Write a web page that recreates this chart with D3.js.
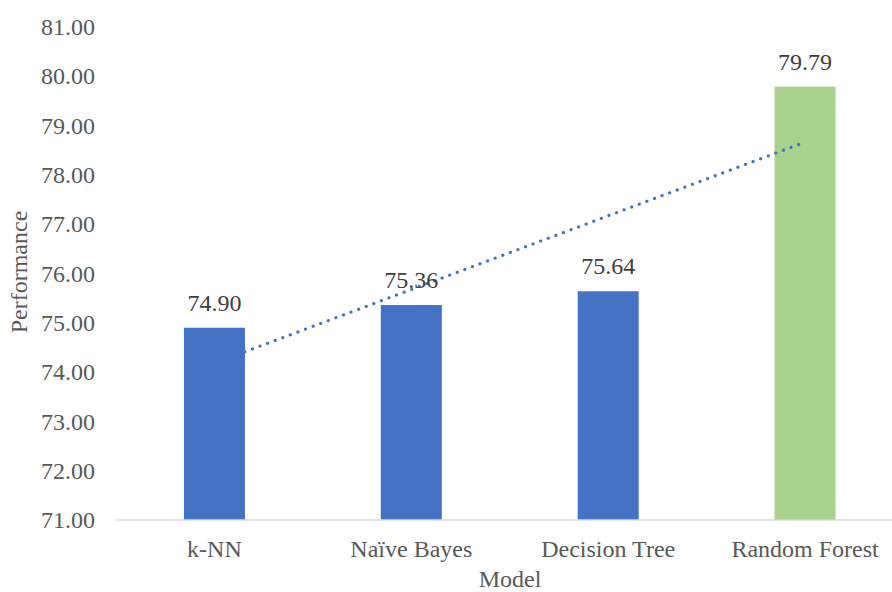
<!DOCTYPE html>
<html><head><meta charset="utf-8">
<script src="https://cdn.jsdelivr.net/npm/d3@7"></script>
<style>body{margin:0;background:#fff}svg{display:block}
svg text{font-family:"Liberation Serif","Times New Roman",Times,"DejaVu Serif",serif;}</style>
</head><body>
<svg id="c" width="892" height="592"></svg>
<script>
const categories = ["k-NN", "Naïve Bayes", "Decision Tree", "Random Forest"];
const values = [74.90, 75.36, 75.64, 79.79];
const barColors = ["#4472C4", "#4472C4", "#4472C4", "#A9D18E"];
const yTicks = [71, 72, 73, 74, 75, 76, 77, 78, 79, 80, 81];
const yTitle = "Performance";
const xTitle = "Model";

(function () {
const svg = d3.select("#c");
const pLeft = 116, pRight = 903.5, pTop = 27, pBottom = 520;

const x = d3.scaleBand().domain(categories).range([pLeft, pRight]).paddingInner(0.69).paddingOuter(0.345);
const y = d3.scaleLinear().domain([71, 81]).range([pBottom, pTop]);

// bars
svg.selectAll("rect.bar").data(values).join("rect")
  .attr("x", (d, i) => x(categories[i]))
  .attr("y", d => y(d))
  .attr("width", x.bandwidth())
  .attr("height", d => y(71) - y(d))
  .attr("fill", (d, i) => barColors[i]);

// linear trendline (least squares over category index)
const n = values.length;
const xs = values.map((d, i) => i + 1);
const mx = d3.mean(xs), my = d3.mean(values);
const slope = d3.sum(xs.map((xi, i) => (xi - mx) * (values[i] - my))) / d3.sum(xs.map(xi => (xi - mx) ** 2));
const icpt = my - slope * mx;
const cx = i => x(categories[i]) + x.bandwidth() / 2;
svg.append("line")
  .attr("x1", cx(0)).attr("y1", y(icpt + slope * 1))
  .attr("x2", cx(n - 1)).attr("y2", y(icpt + slope * n))
  .attr("stroke", "#4472C4").attr("stroke-width", 3.2)
  .attr("stroke-linecap", "round").attr("stroke-dasharray", "0.1 8");

// x axis line
svg.append("line").attr("x1", pLeft).attr("x2", pRight).attr("y1", pBottom).attr("y2", pBottom)
  .attr("stroke", "#D9D9D9").attr("stroke-width", 1.5);

// y axis
const yAxis = d3.axisLeft(y).tickValues(yTicks).tickFormat(d3.format(".2f")).tickSize(0).tickPadding(0);
const ya = svg.append("g").attr("transform", `translate(95,0)`).call(yAxis);
ya.attr("font-family", null).attr("font-size", null);
ya.select(".domain").remove();
ya.selectAll("text").style("font-size", "24px").attr("fill", "#595959");

// x axis labels
const xAxis = d3.axisBottom(x).tickSize(0).tickPadding(0);
const xa = svg.append("g").attr("transform", `translate(0,${pBottom + 20})`).call(xAxis);
xa.attr("font-family", null).attr("font-size", null);
xa.select(".domain").remove();
xa.selectAll("text").style("font-size", "24px").attr("fill", "#595959").attr("dy", "0.71em");

// data labels
svg.selectAll("text.lbl").data(values).join("text")
  .attr("class", "lbl")
  .attr("x", (d, i) => cx(i))
  .attr("y", d => y(d) - 17)
  .attr("text-anchor", "middle")
  .style("font-size", "24px").attr("fill", "#404040")
  .text(d => d3.format(".2f")(d));

// axis titles
svg.append("text").attr("x", 510).attr("y", 587).attr("text-anchor", "middle")
  .style("font-size", "24px").attr("fill", "#595959").text(xTitle);
svg.append("text").attr("transform", "translate(27,272) rotate(-90)").attr("text-anchor", "middle")
  .style("font-size", "24px").attr("fill", "#595959").text(yTitle);
})();
</script>
</body></html>
